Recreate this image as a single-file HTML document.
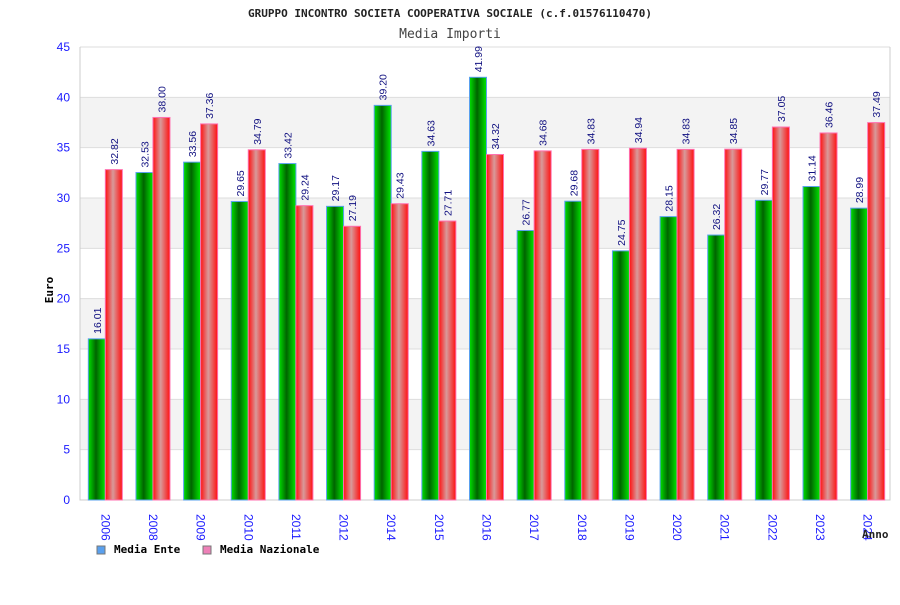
<!DOCTYPE html>
<html><head><meta charset="utf-8"><style>
body{margin:0;background:#fff;width:900px;height:600px;overflow:hidden}
svg text{font-family:"Liberation Sans",sans-serif}
</style></head><body>
<svg id="c" width="900" height="600" xmlns="http://www.w3.org/2000/svg">
<defs>
<linearGradient id="gG" x1="0" x2="1" y1="0" y2="0"><stop offset="0" stop-color="#00e000"/><stop offset="0.45" stop-color="#006400"/><stop offset="1" stop-color="#00e800"/></linearGradient>
<linearGradient id="gR" x1="0" x2="1" y1="0" y2="0"><stop offset="0" stop-color="#ff1010"/><stop offset="0.45" stop-color="#d89a9a"/><stop offset="1" stop-color="#ff1010"/></linearGradient>
</defs>
<text x="450" y="17" text-anchor="middle" font-size="11" font-weight="bold" style="font-family:'DejaVu Sans Mono',monospace" fill="#222">GRUPPO INCONTRO SOCIETA COOPERATIVA SOCIALE (c.f.01576110470)</text>
<text x="450" y="38" text-anchor="middle" font-size="13" style="font-family:'DejaVu Sans Mono',monospace" fill="#444">Media Importi</text>
<g id="grid"></g>
<g id="bars"></g>
<g id="labels"></g>
<text transform="translate(53,290) rotate(-90)" text-anchor="middle" font-size="11" font-weight="bold" style="font-family:'DejaVu Sans Mono',monospace">Euro</text>
<text x="862" y="538" font-size="11" font-weight="bold" style="font-family:'DejaVu Sans Mono',monospace" fill="#222">Anno</text>
<rect x="97" y="546" width="8" height="8" fill="#5aa0ee" stroke="#777"/>
<text x="114" y="553" font-size="11" font-weight="bold" style="font-family:'DejaVu Sans Mono',monospace">Media Ente</text>
<rect x="203" y="546" width="8" height="8" fill="#ee80b8" stroke="#777"/>
<text x="220" y="553" font-size="11" font-weight="bold" style="font-family:'DejaVu Sans Mono',monospace">Media Nazionale</text>
</svg>
<script>
const years=["2006","2008","2009","2010","2011","2012","2014","2015","2016","2017","2018","2019","2020","2021","2022","2023","2024"];
const ente=[16.01,32.53,33.56,29.65,33.42,29.17,39.20,34.63,41.99,26.77,29.68,24.75,28.15,26.32,29.77,31.14,28.99];
const nazionale=[32.82,38.00,37.36,34.79,29.24,27.19,29.43,27.71,34.32,34.68,34.83,34.94,34.83,34.85,37.05,36.46,37.49];
const yTicks=[0,5,10,15,20,25,30,35,40,45];
const NS="http://www.w3.org/2000/svg";
const L=80,R=890,T=47,B=500,YMAX=45;
const y=v=>B-(v/YMAX)*(B-T);
const gw=(R-L)/years.length;
const xc=i=>L+1.5+gw*(i+0.5);
function mk(t,a,p){const e=document.createElementNS(NS,t);for(const k in a)e.setAttribute(k,a[k]);p.appendChild(e);return e;}
const grid=document.getElementById('grid'),bars=document.getElementById('bars'),labels=document.getElementById('labels');
for(let i=0;i<yTicks.length-1;i++){
  const r=mk('rect',{x:L,y:y(yTicks[i+1]),width:R-L,height:y(yTicks[i])-y(yTicks[i+1]),fill:(i%2==1)?'#f3f3f3':'#fff'},grid);
  
  
}
yTicks.forEach(t=>{
  const l=mk('line',{x1:L,x2:R,y1:y(t),y2:y(t),stroke:'#ddd'},grid);
  
  
  const tx=mk('text',{x:L-10,y:y(t)+4,'text-anchor':'end','font-size':12,fill:'#1a1aff'},grid);
  tx.textContent=t;
  
  
});
const ax=mk('path',{d:`M${L},${T}V${B}H${R}V${T}`,fill:'none',stroke:'#ccc'},grid);


const bw=17;
years.forEach((yr,i)=>{
  const c=xc(i);
  const g=mk('rect',{x:c-bw,y:y(ente[i]),width:bw,height:B-y(ente[i]),fill:'url(#gG)',stroke:'#5aa0ee','stroke-width':1},bars);
  
  
  const r=mk('rect',{x:c,y:y(nazionale[i]),width:bw,height:B-y(nazionale[i]),fill:'url(#gR)',stroke:'#ff70b0','stroke-width':1},bars);
  
  
  [[ente[i],c-bw/2,'value-label-ente'],[nazionale[i],c+bw/2,'value-label-nazionale']].forEach(([v,x,n])=>{
    const t=mk('text',{transform:`translate(${x+4},${y(v)-5}) rotate(-90)`,'font-size':10.5,fill:'#101080'},labels);
    t.textContent=v.toFixed(2);
    
    
  });
  const xl=mk('text',{transform:`translate(${c-4},${B+14}) rotate(90)`,'font-size':12,fill:'#1a1aff'},labels);
  xl.textContent=yr;
  
  
});
</script>
</body></html>
